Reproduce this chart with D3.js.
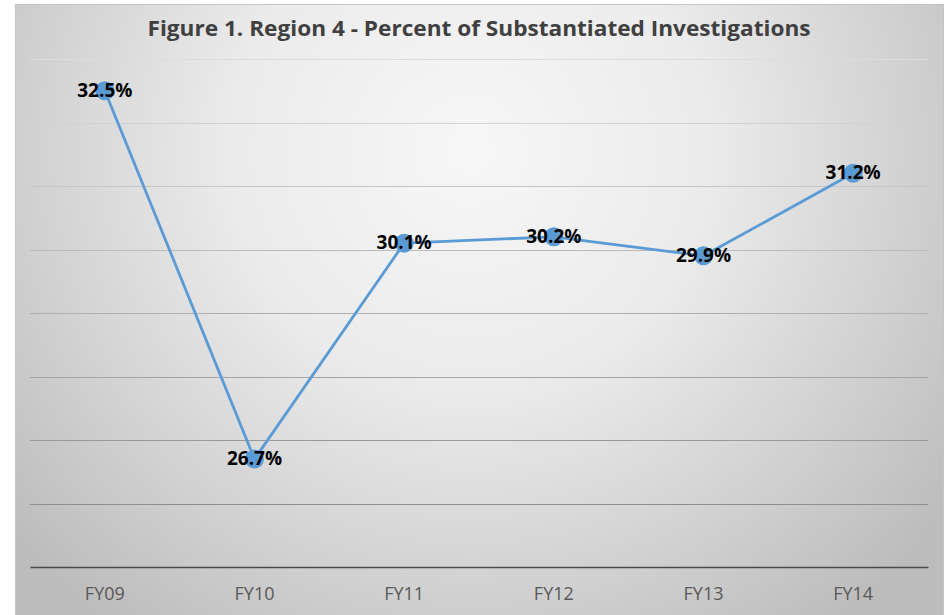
<!DOCTYPE html>
<html>
<head>
<meta charset="utf-8">
<title>Region 4 - Percent of Substantiated Investigations</title>
<style>
  body { margin: 0; background: #fff; }
  svg { display: block; }
</style>
<script src="https://d3js.org/d3.v7.min.js"></script>
</head>
<body>
<script>

const years = ["FY09", "FY10", "FY11", "FY12", "FY13", "FY14"];
const pctSubstantiated = [32.5, 26.7, 30.1, 30.2, 29.9, 31.2];
const gridValues = [26, 27, 28, 29, 30, 31, 32, 33];
const chartTitle = "Figure 1. Region 4 - Percent of Substantiated Investigations";

const W = 949, H = 615;
const plot = {left: 30, right: 928, top: 59, bottom: 567};

let svg = d3.select("body").append("svg")
  .attr("width", W)
  .attr("height", H);

// background gradient, light towards the top centre
let defs = svg.append("defs");
let grad = defs.append("radialGradient")
  .attr("id", "bg")
  .attr("gradientUnits", "userSpaceOnUse")
  .attr("cx", 470).attr("cy", 150).attr("r", 600);
grad.append("stop").attr("offset", "0%").attr("stop-color", "#f7f7f7");
grad.append("stop").attr("offset", "40%").attr("stop-color", "#ebebeb");
grad.append("stop").attr("offset", "100%").attr("stop-color", "#bcbcbc");

svg.append("rect")
  .attr("x", 15.5).attr("y", 4.5)
  .attr("width", 928).attr("height", 615)
  .attr("fill", "url(#bg)")
  .attr("stroke", "#c4c4c4");

let x = d3.scaleBand().domain(years).range([plot.left, plot.right]);
let y = d3.scaleLinear().domain([25, 33]).range([plot.bottom, plot.top]);

let gridColor = d3.scaleLinear().domain([33, 26]).range(["#dcdcdc", "#8e8e8e"]);

svg.append("g").attr("class", "grid")
  .selectAll("line").data(gridValues).enter().append("line")
  .attr("x1", plot.left).attr("x2", plot.right)
  .attr("y1", d => Math.round(y(d)) + 0.5)
  .attr("y2", d => Math.round(y(d)) + 0.5)
  .attr("stroke", d => gridColor(d))
  .attr("stroke-width", 1);

// x axis
let xAxis = svg.append("g")
  .attr("transform", "translate(0," + y(25) + ")")
  .call(d3.axisBottom(x).tickSize(0).tickPadding(20));
xAxis.select(".domain").attr("stroke", "#4a4a4a").attr("stroke-width", 1.6);
xAxis.selectAll("text")
  .attr("font-family", "'Open Sans', sans-serif")
  .attr("font-size", 18)
  .attr("fill", "#595959");

// title
svg.append("text")
  .attr("x", 479).attr("y", 36)
  .attr("text-anchor", "middle")
  .attr("font-family", "'Open Sans', sans-serif")
  .attr("font-weight", "bold")
  .attr("font-size", 21)
  .attr("textLength", 663)
  .attr("lengthAdjust", "spacingAndGlyphs")
  .attr("fill", "#404040")
  .text(chartTitle);

let data = years.map((k, i) => ({year: k, value: pctSubstantiated[i]}));

let line = d3.line()
  .x(d => x(d.year) + x.bandwidth() / 2)
  .y(d => y(d.value));

svg.append("path")
  .datum(data)
  .attr("d", line)
  .attr("fill", "none")
  .attr("stroke", "#5b9bd5")
  .attr("stroke-width", 2.8);

svg.append("g").selectAll("circle").data(data).enter().append("circle")
  .attr("cx", d => x(d.year) + x.bandwidth() / 2)
  .attr("cy", d => y(d.value))
  .attr("r", 9.5)
  .attr("fill", "#5b9bd5");

svg.append("g").selectAll("text").data(data).enter().append("text")
  .attr("x", d => x(d.year) + x.bandwidth() / 2)
  .attr("y", d => y(d.value) + 1)
  .attr("text-anchor", "middle")
  .attr("dominant-baseline", "middle")
  .attr("font-family", "'Open Sans', sans-serif")
  .attr("font-weight", "bold")
  .attr("font-size", 19)
  .attr("fill", "#000")
  .text(d => d.value.toFixed(1) + "%");

</script>
</body>
</html>
